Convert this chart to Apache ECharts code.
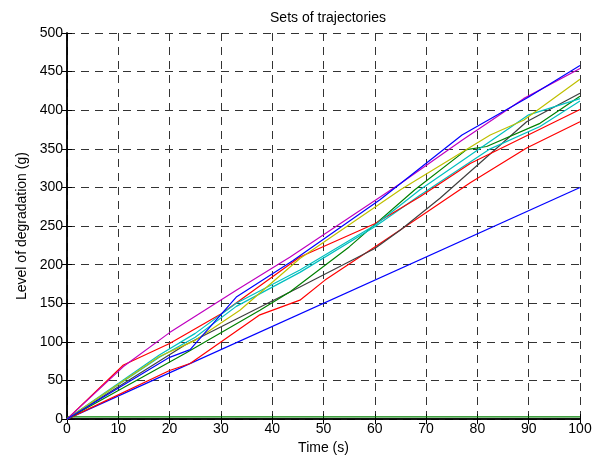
<!DOCTYPE html>
<html>
<head>
<meta charset="utf-8">
<script src="https://cdn.jsdelivr.net/npm/echarts@6/dist/echarts.min.js"></script>
<style>
  html, body { margin: 0; padding: 0; background: #fff; }
  #chart { width: 600px; height: 460px; }
</style>
</head>
<body>
<div id="chart"></div>
<script>
// tick labels
var xTicks = [0, 10, 20, 30, 40, 50, 60, 70, 80, 90, 100];
var yTicks = [0, 50, 100, 150, 200, 250, 300, 350, 400, 450, 500];

// trajectories, [time, degradation]
var blueLow = [[0, 0], [100, 300]];
var blueHigh = [[0, 0], [20, 80], [24, 90], [33, 158], [44, 205], [61, 284], [77, 368], [90, 417], [100, 458]];
var greenA = [[0, 0], [23, 85], [37.6, 141], [43.5, 165], [55, 223], [67.8, 297], [77.9, 349], [81.8, 353], [92.2, 383], [100, 418]];
var redA = [[0, 0], [11, 70], [20, 98], [30, 136], [45.4, 210], [60, 253], [68.8, 288], [78.6, 331], [100, 401]];
var redB = [[0, 0], [20, 63], [24, 72], [37.6, 135], [45.4, 154], [50.3, 180], [60, 223], [68.8, 262], [78.6, 306], [89.6, 351], [100, 385]];
var cyanA = [[0, 0], [18, 83], [25, 111], [33, 150], [45.4, 193], [60, 251], [68.8, 297], [77.3, 336], [90, 394], [100, 415]];
var cyanB = [[0, 0], [18, 80], [25, 106], [33, 146], [45.4, 190], [60, 249], [68.8, 290], [82.5, 350], [92.2, 379], [100, 412]];
var magenta = [[0, 0], [11, 68], [20, 112], [33, 167], [43.5, 210], [65, 305], [77, 361], [89, 415], [100, 454]];
var yellow = [[0, 0], [18, 81], [25, 102], [33.7, 141], [45.4, 208], [65, 297], [82.5, 368], [89, 387], [100, 440]];
var gray = [[0, 0], [23, 96], [45.4, 171], [60, 221], [65, 245], [72.7, 286], [89.6, 385], [100, 422]];
var greenFlat = [[0, 3], [100, 3]];

var myChart = echarts.init(document.getElementById('chart'));

var font = 'Liberation Sans, Arial, sans-serif';

function line(data, color) {
    return {
        type: 'line',
        data: data,
        symbol: 'none',
        silent: true,
        lineStyle: { color: color, width: 1.2 }
    };
}

function axisBase(pos) {
    return {
        type: 'value',
        position: pos,
        axisLine: { show: true, lineStyle: { color: '#000', width: 1.5 } },
        axisTick: { show: true, inside: true, length: 5, lineStyle: { color: '#000' } }
    };
}

var xMain = axisBase('bottom');
xMain.min = 0; xMain.max = 100; xMain.interval = 10;
xMain.name = 'Time (s)';
xMain.nameLocation = 'middle';
xMain.nameGap = 15;
xMain.nameTextStyle = { color: '#000', fontFamily: font, fontSize: 14 };
xMain.axisLabel = { color: '#000', fontFamily: font, fontSize: 14, margin: 3,
    formatter: function (v) { return xTicks.indexOf(v) >= 0 ? v : ''; } };
xMain.splitLine = { show: true, lineStyle: { color: '#333', type: [8, 6], width: 1 } };

var xTop = axisBase('top');
xTop.min = 0; xTop.max = 100; xTop.interval = 10;
xTop.axisLabel = { show: false };
xTop.splitLine = { show: false };

var yMain = axisBase('left');
yMain.min = 0; yMain.max = 500; yMain.interval = 50;
yMain.name = 'Level of degradation (g)';
yMain.nameLocation = 'middle';
yMain.nameGap = 38;
yMain.nameTextStyle = { color: '#000', fontFamily: font, fontSize: 14 };
yMain.axisLabel = { color: '#000', fontFamily: font, fontSize: 14, margin: 4,
    formatter: function (v) { return yTicks.indexOf(v) >= 0 ? v : ''; } };
yMain.splitLine = { show: true, lineStyle: { color: '#333', type: [8, 6], width: 1 } };

var yRight = axisBase('right');
yRight.min = 0; yRight.max = 500; yRight.interval = 50;
yRight.axisLabel = { show: false };
yRight.splitLine = { show: false };

var option = {
    animation: false,
    backgroundColor: '#fff',
    title: {
        text: 'Sets of trajectories',
        left: 323,
        textAlign: 'center',
        top: 6,
        textStyle: { color: '#000', fontFamily: font, fontSize: 14, fontWeight: 'normal' }
    },
    grid: { left: 67, right: 20, top: 33, bottom: 40 },
    xAxis: [xMain, xTop],
    yAxis: [yMain, yRight],
    series: [
        line(blueLow, '#0000ff'),
        line(greenFlat, '#008000'),
        line(redB, '#ff0000'),
        line(gray, '#404040'),
        line(greenA, '#008000'),
        line(cyanB, '#00bfbf'),
        line(redA, '#ff0000'),
        line(cyanA, '#00bfbf'),
        line(yellow, '#bfbf00'),
        line(magenta, '#bf00bf'),
        line(blueHigh, '#0000ff')
    ]
};
myChart.setOption(option);
</script>
</body>
</html>
